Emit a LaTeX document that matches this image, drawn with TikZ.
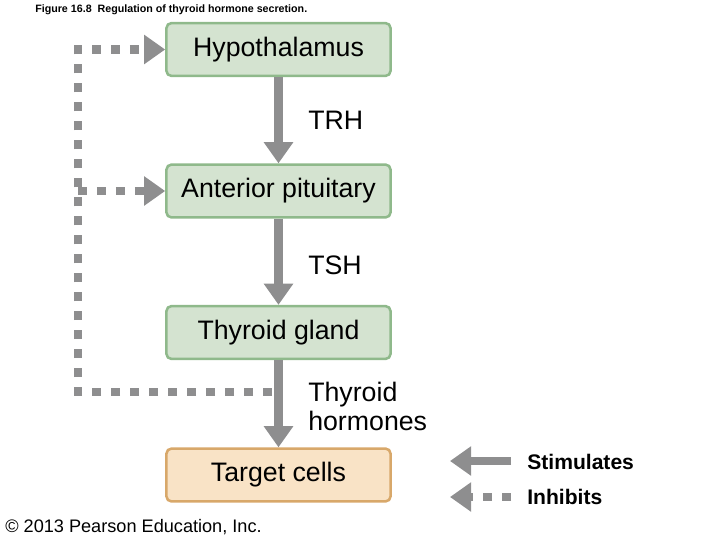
\documentclass[tikz,border=0pt]{standalone}
\usepackage{fontspec}
\setmainfont{Liberation Sans}
\usetikzlibrary{arrows.meta,positioning}
\definecolor{leaf}{HTML}{D4E3D0}
\definecolor{leafedge}{HTML}{8FB98B}
\definecolor{peach}{HTML}{F9E3C6}
\definecolor{peachedge}{HTML}{D8A86A}
\definecolor{arrowgray}{HTML}{8E8E8F}
\tikzset{
 gbox/.style={draw=leafedge,fill=leaf,line width=1.8pt,rounded corners=3.5pt,
  minimum width=5.6cm,minimum height=1.32cm,font=\fontsize{19}{23}\selectfont},
 tbox/.style={gbox,draw=peachedge,fill=peach},
 stimarrow/.style={draw=arrowgray,line width=5.7pt,
  -{Triangle[length=15pt,width=20pt]}},
 inhibarrow/.style={stimarrow,dash pattern=on 6.4pt off 7.1pt},
 hlabel/.style={anchor=west,inner sep=0pt,align=left,
  font=\fontsize{19}{20.6}\selectfont},
 keytext/.style={anchor=west,inner sep=0pt,font=\fontsize{15}{18}\selectfont\bfseries}
}
\begin{document}
\begin{tikzpicture}[x=0.025cm,y=-0.025cm]
\useasboundingbox (0,0) rectangle (720,540);
% title and credit
\node[anchor=west,inner sep=0pt,font=\fontsize{7.6}{9}\selectfont\bfseries] (title) at (35,10)
 {Figure 16.8\ \ Regulation of thyroid hormone secretion.};
\node[anchor=west,inner sep=0pt,font=\fontsize{12.9}{15}\selectfont] (credit) at (5,527)
 {\textcopyright{} 2013 Pearson Education, Inc.};
% the chain
\foreach \nm/\yy/\txt in {hypo/49.5/Hypothalamus, pit/191/Anterior pituitary, thy/332.5/Thyroid gland}
 \node[gbox] (\nm) at (278.5,\yy) {\txt};
\node[tbox] (target) at (278.5,475) {Target cells};
\draw[stimarrow] (hypo) -- (pit);
\draw[stimarrow] (pit) -- (thy);
\draw[stimarrow] (thy) -- (target);
\node[hlabel] (trh) at (308,120) {TRH};
\node[hlabel] (tsh) at (308,265) {TSH};
\node[hlabel] (hormones) at (308,406) {Thyroid\\hormones};
% feedback
\coordinate (fb) at (272,392);
\coordinate (corner) at (78,392);
\draw[inhibarrow] (fb) -- (corner) |- (hypo.west);
\draw[inhibarrow] (corner |- pit.west) -- (pit.west);
% key
\node[keytext] (stim) at (527,462) {Stimulates};
\node[keytext] (inh) at (527,497) {Inhibits};
\coordinate (stimtip) at (450,461);
\coordinate (inhtip) at (450,497);
\draw[stimarrow] ([xshift=-0.4cm]stim.west |- stimtip) -- (stimtip);
\draw[inhibarrow] ([xshift=-0.4cm]inh.west |- inhtip) -- (inhtip);
\end{tikzpicture}
\end{document}
